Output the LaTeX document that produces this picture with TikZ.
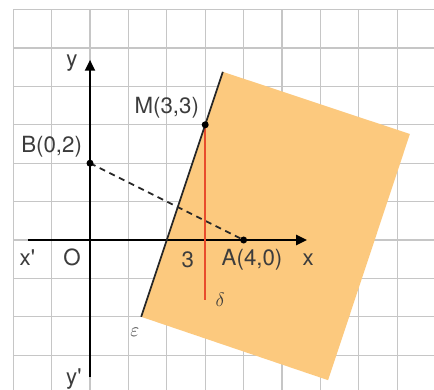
\documentclass[tikz,border=0pt]{standalone}
\usepackage{fontspec}
\setmainfont{TeX Gyre Heros}
\usetikzlibrary{arrows.meta}
\definecolor{gridc}{RGB}{198,198,198}
\definecolor{fillc}{RGB}{252,201,126}
\definecolor{redc}{RGB}{232,76,44}
\definecolor{txtc}{RGB}{60,60,60}
\definecolor{linec}{RGB}{40,40,40}
\tikzset{
  lbl/.style={text=txtc,font=\fontsize{16.5}{19}\selectfont,inner sep=0pt},
  glbl/.style={text=txtc,font=\fontsize{15}{17}\selectfont,inner sep=0pt},
  axis/.style={line width=1.3pt,draw=black},
  axisarrow/.style={axis,-{Triangle[length=8pt,width=7.5pt]}},
  dot/.style={circle,fill=black,inner sep=0pt,minimum size=5.2pt},
  gridline/.style={draw=gridc,line width=0.8pt},
}
\begin{document}
\begin{tikzpicture}
\useasboundingbox[fill=white] (-2.344,-3.906) rectangle (8.958,6.25);
% grid
\foreach \x in {-2,...,8} \draw[gridline] (\x,-3.906) -- (\x,6);
\foreach \y in {-3,...,6} \draw[gridline] (-2,\y) -- (8.958,\y);
% shaded half-plane
\coordinate (P1) at (1.333,-2);
\coordinate (P2) at (3.46,4.38);
\coordinate (P3) at (8.33,2.76);
\coordinate (P4) at (6.2,-3.65);
\fill[fillc] (P1) -- (P2) -- (P3) -- (P4) -- cycle;
% axes
\coordinate (xs) at (-1.61,0);
\coordinate (xe) at (5.65,0);
\coordinate (ys) at (0,-3.57);
\coordinate (ye) at (0,4.69);
\draw[axisarrow] (xs) -- (xe);
\draw[axisarrow] (ys) -- (ye);
% points
\coordinate (O) at (0,0);
\coordinate (A) at (4,0);
\coordinate (B) at (0,2);
\coordinate (M) at (3,3);
\coordinate (D) at (3,-1.57);
% dashed segment
\draw[line width=1.3pt,draw=linec,dash pattern=on 4.5pt off 3.5pt] (B) -- (A);
% red line delta
\draw[line width=1.2pt,draw=redc] (M) -- (D);
% line epsilon
\draw[line width=1.3pt,draw=linec] (P1) -- (P2);
% dots
\node[dot] (dA) at (A) {};
\node[dot] (dB) at (B) {};
\node[dot] (dM) at (M) {};
% labels
\node[lbl] (lM) at (2.0,3.44) {M(3,3)};
\node[lbl] (lB) at (-1.0,2.43) {B(0,2)};
\node[lbl] (lA) at (4.22,-0.52) {A(4,0)};
\node[lbl] (l3) at (2.55,-0.52) {3};
\node[lbl] (lx) at (5.68,-0.52) {x};
\node[lbl] (lxp) at (-1.63,-0.45) {x\textquotesingle};
\node[lbl] (lO) at (-0.47,-0.45) {O};
\node[lbl] (ly) at (-0.47,4.6) {y};
\node[lbl] (lyp) at (-0.42,-3.62) {y\textquotesingle};
\node[glbl] (ld) at (3.39,-1.56) {$\delta$};
\node[glbl] (le) at (1.17,-2.4) {$\varepsilon$};
\end{tikzpicture}
\end{document}
